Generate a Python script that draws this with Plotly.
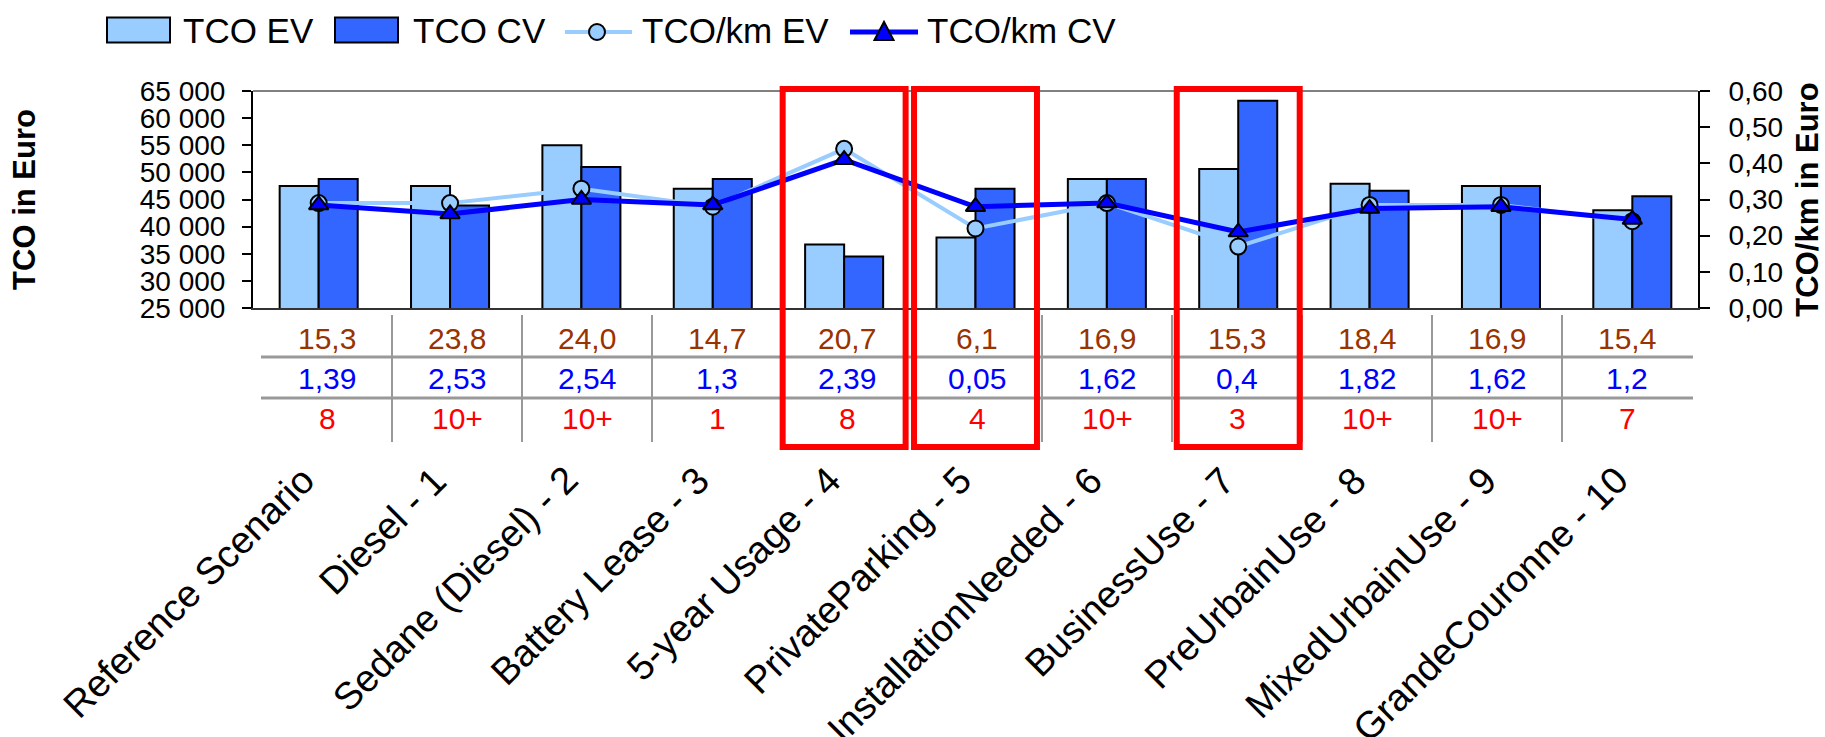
import plotly.graph_objects as go

# ---------------- data ----------------
categories = ["Reference Scenario", "Diesel - 1", "Sedane (Diesel) - 2", "Battery Lease - 3",
              "5-year Usage - 4", "PrivateParking - 5", "InstallationNeeded - 6", "BusinessUse - 7",
              "PreUrbainUse - 8", "MixedUrbainUse - 9", "GrandeCouronne - 10"]
tco_ev = [47500, 47500, 55000, 47000, 36700, 38000, 48800, 50600, 47900, 47500, 43000]
tco_cv = [48800, 43900, 51000, 48800, 34500, 47000, 48800, 63200, 46600, 47500, 45600]
tcokm_ev = [0.29, 0.29, 0.33, 0.28, 0.44, 0.22, 0.29, 0.17, 0.285, 0.285, 0.24]
tcokm_cv = [0.285, 0.26, 0.30, 0.285, 0.41, 0.28, 0.29, 0.21, 0.275, 0.28, 0.245]
row1 = ["15,3", "23,8", "24,0", "14,7", "20,7", "6,1", "16,9", "15,3", "18,4", "16,9", "15,4"]
row2 = ["1,39", "2,53", "2,54", "1,3", "2,39", "0,05", "1,62", "0,4", "1,82", "1,62", "1,2"]
row3 = ["8", "10+", "10+", "1", "8", "4", "10+", "3", "10+", "10+", "7"]
highlighted = [4, 5, 7]
legend_labels = ["TCO EV", "TCO CV", "TCO/km EV", "TCO/km CV"]

# ---------------- styles / layout geometry ----------------
C_EV = "#99CCFF"
C_CV = "#3366FF"
C_LINE_CV = "#0000FF"
ROW_COLORS = ["#993300", "#0000FF", "#FF0000"]
FONT = "Liberation Sans, Arial, sans-serif"

W, H = 1825, 737
PL, PR, PT, PB = 253, 1698, 91, 308
PW, PH = PR - PL, PB - PT


def fx(px):
    return (px - PL) / PW


def fy(py):
    return (PB - py) / PH


fig = go.Figure()
fig.add_trace(go.Bar(x=categories, y=tco_ev, name=legend_labels[0], marker=dict(color=C_EV, line=dict(color="black", width=2)), yaxis="y"))
fig.add_trace(go.Bar(x=categories, y=tco_cv, name=legend_labels[1], marker=dict(color=C_CV, line=dict(color="black", width=2)), yaxis="y"))
fig.add_trace(go.Scatter(x=categories, y=tcokm_ev, name=legend_labels[2], yaxis="y2", mode="lines+markers",
                         line=dict(color=C_EV, width=4),
                         marker=dict(symbol="circle", size=16, color=C_EV, line=dict(color="black", width=2))))
fig.add_trace(go.Scatter(x=categories, y=tcokm_cv, name=legend_labels[3], yaxis="y2", mode="lines+markers",
                         line=dict(color=C_LINE_CV, width=5),
                         marker=dict(symbol="triangle-up", size=17, color=C_LINE_CV, line=dict(color="black", width=2))))

shapes = []
annotations = []

# top frame line
shapes.append(dict(type="line", xref="paper", yref="paper", x0=0, x1=1, y0=1, y1=1,
                   line=dict(color="#808080", width=2)))

# table below the plot
TABLE_L, COL_W = 262, 130
ROW_Y = [338, 378, 418]
n = len(categories)
for k in range(1, n):
    xx = TABLE_L + COL_W * k
    shapes.append(dict(type="line", xref="paper", yref="paper", x0=fx(xx), x1=fx(xx), y0=fy(315), y1=fy(442),
                       line=dict(color="#999999", width=2)))
for yy in [357, 398]:
    shapes.append(dict(type="line", xref="paper", yref="paper", x0=fx(TABLE_L - 1), x1=fx(TABLE_L + COL_W * n + 1),
                       y0=fy(yy), y1=fy(yy), line=dict(color="#999999", width=3)))
for r, row in enumerate([row1, row2, row3]):
    for i, txt in enumerate(row):
        annotations.append(dict(xref="paper", yref="paper", x=fx(TABLE_L + COL_W * (i + 0.5)), y=fy(ROW_Y[r]),
                                text=txt, showarrow=False, xanchor="center", yanchor="middle",
                                font=dict(family=FONT, size=30, color=ROW_COLORS[r])))

# red highlight boxes (around the highlighted categories)
for i in highlighted:
    shapes.append(dict(type="rect", xref="x", yref="paper", x0=i - 0.468, x1=i + 0.468,
                       y0=fy(447), y1=fy(89), line=dict(color="#FF0000", width=6), fillcolor="rgba(0,0,0,0)"))

# rotated category labels below the table
for c in categories:
    annotations.append(dict(xref="x", yref="paper", x=c, y=fy(456), xshift=7, text=c, showarrow=False,
                            textangle=-45, xanchor="right", yanchor="top",
                            font=dict(family=FONT, size=38, color="black")))

# manual legend
LEG_Y = 30
rect_items = [(107, 170, 181, C_EV), (335, 398, 411, C_CV)]
for (x0, x1, tx, col), lab in zip(rect_items, legend_labels[:2]):
    shapes.append(dict(type="rect", xref="paper", yref="paper", x0=fx(x0), x1=fx(x1), y0=fy(LEG_Y + 12.5),
                       y1=fy(LEG_Y - 12.5), line=dict(color="black", width=2), fillcolor=col))
    annotations.append(dict(xref="paper", yref="paper", x=fx(tx), y=fy(LEG_Y), text=lab, showarrow=False,
                            xanchor="left", yanchor="middle", font=dict(family=FONT, size=35, color="black")))
line_items = [(565, 632, 597, 640, C_EV, 4, "circle"), (850, 918, 884, 925, C_LINE_CV, 5, "triangle")]
for (x0, x1, mx, tx, col, lw, sym), lab in zip(line_items, legend_labels[2:]):
    shapes.append(dict(type="line", xref="paper", yref="paper", x0=fx(x0), x1=fx(x1), y0=fy(LEG_Y + 2), y1=fy(LEG_Y + 2),
                       line=dict(color=col, width=lw)))
    if sym == "circle":
        shapes.append(dict(type="circle", xref="paper", yref="paper", x0=fx(mx - 8), x1=fx(mx + 8),
                           y0=fy(LEG_Y + 10), y1=fy(LEG_Y - 6), fillcolor=col, line=dict(color="black", width=2)))
    else:
        path = "M {:.5f} {:.5f} L {:.5f} {:.5f} L {:.5f} {:.5f} Z".format(
            fx(mx - 9.5), fy(LEG_Y + 10), fx(mx + 9.5), fy(LEG_Y + 10), fx(mx), fy(LEG_Y - 8))
        shapes.append(dict(type="path", xref="paper", yref="paper", path=path, fillcolor=C_LINE_CV,
                           line=dict(color="black", width=2)))
    annotations.append(dict(xref="paper", yref="paper", x=fx(tx), y=fy(LEG_Y), text=lab, showarrow=False,
                            xanchor="left", yanchor="middle", font=dict(family=FONT, size=35, color="black")))

fig.update_layout(
    width=W, height=H,
    margin=dict(l=PL, r=W - PR, t=PT, b=H - PB, pad=0),
    paper_bgcolor="white", plot_bgcolor="white",
    showlegend=False,
    barmode="group", bargap=0.406, bargroupgap=0,
    separators=", ",
    font=dict(family=FONT, color="black"),
    xaxis=dict(type="category", showticklabels=False, ticks="", showgrid=False, showline=True, linecolor="#333333",
               linewidth=2, automargin=False, range=[-0.5, n - 0.5]),
    yaxis=dict(range=[25000, 65000], dtick=5000, tickformat=",d", showgrid=False, showline=True,
               linecolor="black", linewidth=2, ticks="outside", ticklen=9, tickwidth=1.5, tickcolor="black",
               ticklabelstandoff=11, tickfont=dict(family=FONT, size=28, color="black"), automargin=False,
               title=dict(text="<b>TCO in Euro</b>", font=dict(family=FONT, size=31, color="black"), standoff=95)),
    yaxis2=dict(range=[0, 0.6], dtick=0.1, tickformat=".2f", overlaying="y", side="right", showgrid=False,
                showline=True, linecolor="black", linewidth=2, ticks="outside", ticklen=10, tickwidth=1.5,
                tickcolor="black", ticklabelstandoff=13, tickfont=dict(family=FONT, size=28, color="black"),
                automargin=False,
                title=dict(text="<b>TCO/km in Euro</b>", font=dict(family=FONT, size=31, color="black"), standoff=20)),
    shapes=shapes,
    annotations=annotations,
)

fig.write_html("out.html")
